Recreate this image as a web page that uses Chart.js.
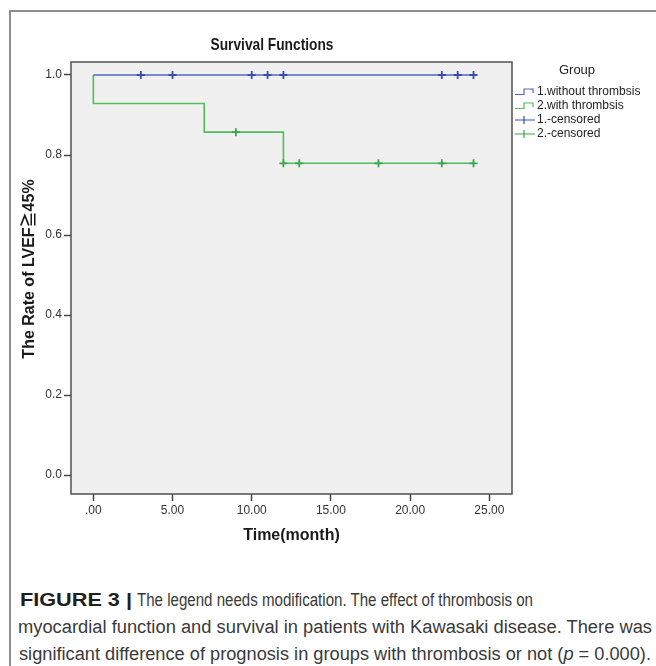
<!DOCTYPE html>
<html>
<head>
<meta charset="utf-8">
<script src="https://cdn.jsdelivr.net/npm/chart.js@4.4.0/dist/chart.umd.min.js"></script>
<style>
  html, body { margin: 0; padding: 0; background: #ffffff; }
  body { width: 656px; height: 666px; position: relative; overflow: hidden; }
  #frame { position: absolute; left: 9px; top: 10px; width: 700px; height: 700px;
           border-left: 2px solid #8e8e8e; border-top: 2px solid #8e8e8e; box-sizing: border-box; }
  #wrap { position: absolute; left: 0; top: 0; width: 656px; height: 560px; }
  .seg { position: absolute; white-space: nowrap; transform-origin: 0 0;
         font-family: "Liberation Sans", Arial, sans-serif; font-size: 18px; line-height: 27px; color: #3a3a3a; }
  .seg.b { font-weight: bold; color: #1e1e1e; }
</style>
</head>
<body>
<div id="frame"></div>
<div id="wrap"><canvas id="c" width="656" height="560"></canvas></div>
<span class="seg b" data-w="112" style="left:20px; top:587px;">FIGURE 3 |</span>
<span class="seg" data-w="396" style="left:137px; top:587px;">The legend needs modification. The effect of thrombosis on</span>
<span class="seg" data-w="634" style="left:18px; top:614px;">myocardial function and survival in patients with Kawasaki disease. There was</span>
<span class="seg" data-w="632" style="left:19px; top:641px;">significant difference of prognosis in groups with thrombosis or not (<i>p</i> = 0.000).</span>
<script>
// ---- data ----
const blueTimes = [0, 24];
const blueSurv = [1, 1];
const greenTimes = [0, 0, 7, 12, 24];
const greenSurv = [1, 0.9286, 0.8571, 0.7792, 0.7792];
const blueCensorTimes = [3, 5, 10, 11, 12, 22, 23, 24];
const blueCensorSurv = [1, 1, 1, 1, 1, 1, 1, 1];
const greenCensorTimes = [9, 12, 13, 18, 22, 24];
const greenCensorSurv = [0.8571, 0.7792, 0.7792, 0.7792, 0.7792, 0.7792];
const xTickValues = [0, 5, 10, 15, 20, 25];
const yTickValues = [0, 0.2, 0.4, 0.6, 0.8, 1.0];
const legendLabels = ['1.without thrombsis', '2.with thrombsis', '1.-censored', '2.-censored'];
const chartTitle = 'Survival Functions';
const xTitle = 'Time(month)';
const yTitle = 'The Rate of LVEF\u226745%';

const BLUE = '#5266cf', BLUE_DARK = '#3a4cb4';
const GREEN = '#4fbf5c', GREEN_DARK = '#3aa54a';
const FONT = '"Liberation Sans", Arial, "Noto Sans CJK SC", sans-serif';

function pts(xs, ys) { return xs.map((x, i) => ({ x: x, y: ys[i] })); }

const decor = {
  id: 'decor',
  beforeDraw(chart) {
    const { ctx, chartArea: a } = chart;
    ctx.save();
    ctx.fillStyle = '#f0f0f0';
    ctx.fillRect(a.left, a.top, a.right - a.left, a.bottom - a.top);
    ctx.restore();
  },
  afterDraw(chart) {
    const { ctx, chartArea: a } = chart;
    ctx.save();
    ctx.strokeStyle = '#505050';
    ctx.lineWidth = 1.5;
    ctx.strokeRect(a.left, a.top, a.right - a.left, a.bottom - a.top);
    // title (condensed, as in the reference)
    ctx.fillStyle = '#1a1a1a';
    ctx.font = 'bold 17px ' + FONT;
    ctx.textAlign = 'center';
    ctx.textBaseline = 'middle';
    const tw = ctx.measureText(chartTitle).width;
    ctx.save();
    ctx.translate(272, 45);
    ctx.scale(123 / tw, 1);
    ctx.fillText(chartTitle, 0, 0);
    ctx.restore();
    // y axis title
    ctx.save();
    ctx.font = 'bold 16px ' + FONT;
    ctx.translate(30, 269);
    ctx.rotate(-Math.PI / 2);
    ctx.fillText(yTitle, 0, 0);
    ctx.restore();
    // legend
    ctx.font = '13px ' + FONT;
    ctx.fillStyle = '#222';
    ctx.fillText('Group', 577, 70);
    ctx.font = '12px ' + FONT;
    ctx.textAlign = 'left';
    const ys = [92, 106, 120, 134];
    const cols = [BLUE, GREEN, BLUE_DARK, GREEN_DARK];
    legendLabels.forEach((lab, i) => {
      const y = ys[i];
      ctx.strokeStyle = cols[i];
      ctx.lineWidth = 1.2;
      ctx.beginPath();
      if (i < 2) {
        ctx.moveTo(515, y + 2.5); ctx.lineTo(524, y + 2.5); ctx.lineTo(524, y - 3);
        ctx.lineTo(533, y - 3); ctx.lineTo(533, y + 1);
      } else {
        ctx.moveTo(515, y); ctx.lineTo(535, y);
        ctx.moveTo(524, y - 4); ctx.lineTo(524, y + 4);
      }
      ctx.stroke();
      ctx.fillStyle = '#222';
      ctx.fillText(lab, 537, y);
    });
    ctx.restore();
  }
};

new Chart(document.getElementById('c'), {
  type: 'line',
  data: {
    datasets: [
      { label: '1.-censored', type: 'scatter', data: pts(blueCensorTimes, blueCensorSurv),
        pointStyle: 'cross', pointRadius: 4, pointBorderWidth: 1.8, borderColor: BLUE_DARK,
        backgroundColor: BLUE_DARK, showLine: false, order: 0 },
      { label: '2.-censored', type: 'scatter', data: pts(greenCensorTimes, greenCensorSurv),
        pointStyle: 'cross', pointRadius: 4, pointBorderWidth: 1.8, borderColor: GREEN_DARK,
        backgroundColor: GREEN_DARK, showLine: false, order: 0 },
      { label: '1.without thrombsis', data: pts(blueTimes, blueSurv), stepped: 'before',
        borderColor: BLUE, borderWidth: 1.4, pointRadius: 0, fill: false, order: 1 },
      { label: '2.with thrombsis', data: pts(greenTimes, greenSurv), stepped: 'before',
        borderColor: GREEN, borderWidth: 1.6, pointRadius: 0, fill: false, order: 1 }
    ]
  },
  options: {
    responsive: false,
    animation: false,
    devicePixelRatio: 1,
    layout: { padding: { top: 62, left: 0, right: 144, bottom: 0 } },
    plugins: { legend: { display: false }, title: { display: false }, tooltip: { enabled: false } },
    scales: {
      x: {
        type: 'linear', min: -1.41, max: 26.43,
        afterFit: s => { s.height = 66; },
        afterBuildTicks: s => { s.ticks = xTickValues.map(v => ({ value: v })); },
        grid: { drawOnChartArea: false, drawTicks: true, tickLength: 7, tickColor: '#444', tickWidth: 1.5 },
        border: { display: false },
        ticks: { color: '#333', font: { family: FONT, size: 12 }, padding: 2,
                 callback: v => (v === 0 ? '.00' : v.toFixed(2)), maxRotation: 0 },
        title: { display: true, text: xTitle, color: '#1a1a1a',
                 font: { family: FONT, size: 16, weight: 'bold' }, padding: { top: 14.4, bottom: 14.4 } }
      },
      y: {
        type: 'linear', min: -0.0475, max: 1.0325,
        afterFit: s => { s.width = 71; },
        afterBuildTicks: s => { s.ticks = yTickValues.map(v => ({ value: v })); },
        grid: { drawOnChartArea: false, drawTicks: true, tickLength: 7, tickColor: '#444', tickWidth: 1.5 },
        border: { display: false },
        ticks: { color: '#333', font: { family: FONT, size: 12 }, padding: 2,
                 callback: v => Number(v).toFixed(1) },
        title: { display: false }
      }
    }
  },
  plugins: [decor]
});

// fit caption segments to the widths they have in the reference
document.querySelectorAll('.seg').forEach(el => {
  const w = el.getBoundingClientRect().width;
  const target = Number(el.dataset.w);
  if (w > 0) el.style.transform = 'scaleX(' + (target / w) + ')';
});
</script>
</body>
</html>
